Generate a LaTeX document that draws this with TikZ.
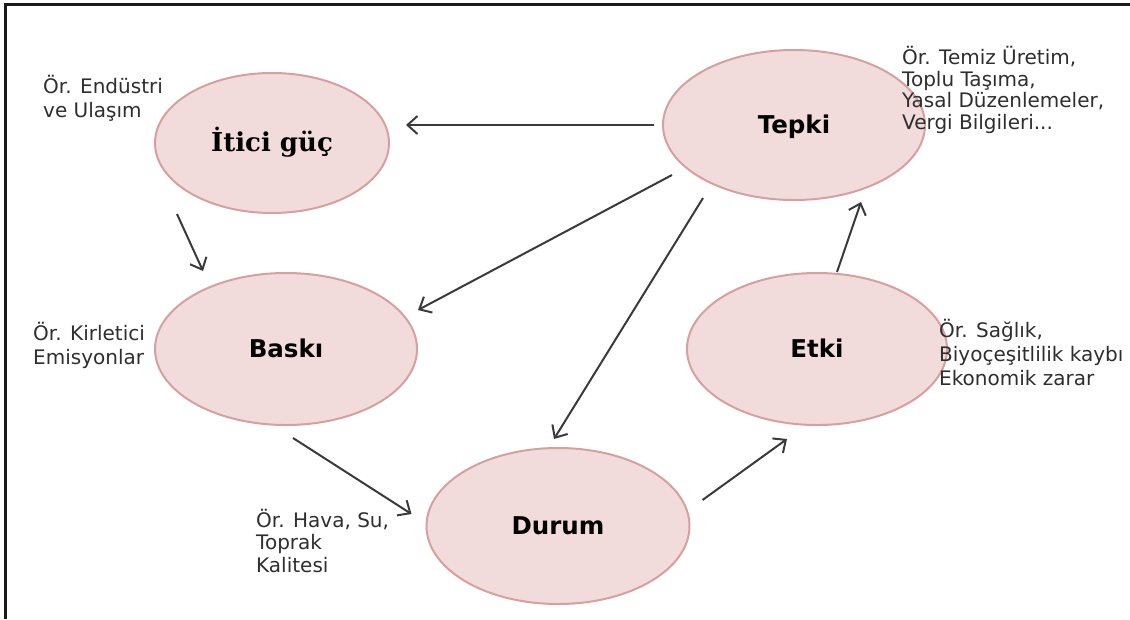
\documentclass[tikz,border=0pt]{standalone}
\usepackage{fontspec}
\setmainfont{DejaVu Sans}
\newfontfamily\serifbold{DejaVu Serif}
\usetikzlibrary{arrows.meta,shapes.geometric}
\definecolor{fillpink}{HTML}{F2DCDB}
\definecolor{edgepink}{HTML}{D6A0A0}
\definecolor{arrowgray}{HTML}{3A3A3A}
\definecolor{txtgray}{HTML}{2E2E2E}
\definecolor{framecol}{HTML}{1A1A1A}
\begin{document}
\begin{tikzpicture}[x=1pt,y=-1pt,
  stage/.style={ellipse, draw=edgepink, fill=fillpink, line width=2pt, inner sep=0pt,
    text=black, font=\fontsize{24.5}{28}\selectfont\bfseries, text height=17pt, text depth=0pt},
  note/.style={inner sep=0pt, align=left, text=txtgray, font=\fontsize{20}{23}\selectfont},
  arr/.style={draw=arrowgray, line width=2pt, -{Straight Barb[length=10pt,width=18pt]}}]
\useasboundingbox (0,0) rectangle (1130,619);
\draw[framecol, line width=2.5pt] (5.3,619) -- (5.3,4.7) -- (1130,4.7);

\node[stage, minimum width=234pt, minimum height=140pt] (itici) at (272,143)
  {\serifbold\fontsize{26}{30}\selectfont\bfseries İtici güç};
\node[stage, minimum width=262pt, minimum height=150pt] (tepki) at (794,125) {Tepki};
\node[stage, minimum width=262pt, minimum height=152pt] (baski) at (286,349) {Baskı};
\node[stage, minimum width=260pt, minimum height=152pt] (etki) at (817,349) {Etki};
\node[stage, minimum width=263pt, minimum height=156pt] (durum) at (558,526) {Durum};

\node[note, anchor=base west, font=\fontsize{20}{24}\selectfont] (n1) at (43,117) {Ör. Endüstri\\ve Ulaşım};
\node[note, anchor=base west, font=\fontsize{20}{21.5}\selectfont] (n2) at (902,129)
  {Ör. Temiz Üretim,\\Toplu Taşıma,\\Yasal Düzenlemeler,\\Vergi Bilgileri...};
\node[note, anchor=base west, font=\fontsize{20}{24}\selectfont] (n3) at (33,364) {Ör. Kirletici\\Emisyonlar};
\node[note, anchor=base west, font=\fontsize{20}{22.5}\selectfont] (n4) at (256,572) {Ör. Hava, Su,\\Toprak\\Kalitesi};
\node[note, anchor=base west, font=\fontsize{20}{24}\selectfont] (n5) at (939,385)
  {Ör. Sağlık,\\Biyoçeşitlilik kaybı\\Ekonomik zarar};

\draw[arr] ([xshift=-8pt]tepki.west) -- ([xshift=16pt,yshift=18pt]itici.east);
\draw[arr] ([xshift=-95pt]itici.south) -- ([xshift=-83pt,yshift=1pt]baski.north);
\draw[arr] ([xshift=10pt,yshift=-50pt]tepki.west) -- ([yshift=39pt]baski.east);
\draw[arr] ([xshift=-91pt,yshift=3pt]tepki.south) -- ([xshift=-4pt,yshift=8pt]durum.north);
\draw[arr] ([xshift=7pt,yshift=-12pt]baski.south) -- ([xshift=-14pt,yshift=12pt]durum.west);
\draw[arr] ([xshift=12pt,yshift=26pt]durum.east) -- ([xshift=-30pt,yshift=-13pt]etki.south);
\draw[arr] ([xshift=20pt]etki.north) -- ([xshift=67pt,yshift=-1pt]tepki.south);
\end{tikzpicture}
\end{document}
